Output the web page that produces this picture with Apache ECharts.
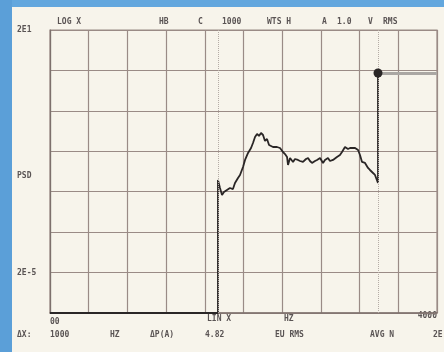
<!DOCTYPE html>
<html>
<head>
<meta charset="utf-8">
<script src="https://cdn.jsdelivr.net/npm/echarts@6/dist/echarts.min.js"></script>
<style>
  html, body { margin: 0; padding: 0; background: #f7f4eb; }
  #chart { width: 444px; height: 352px; }
</style>
</head>
<body>
<div id="chart"></div>
<script>
// Power spectral density trace, 0-4000 Hz, log amplitude from 2E-6 to 2E1
var freqHz = [0, 1736, 1736, 1757, 1778, 1798, 1829, 1860, 1891, 1912, 1943, 1964, 1995, 2016, 2047, 2078,
  2098, 2119, 2140, 2160, 2181, 2202, 2222, 2243, 2264, 2284, 2305, 2346, 2377, 2408, 2429, 2450,
  2460, 2481, 2512, 2532, 2563, 2584, 2615, 2646, 2667, 2687, 2708, 2739, 2760, 2791, 2822, 2842,
  2873, 2894, 2925, 2966, 2997, 3018, 3049, 3080, 3101, 3132, 3153, 3184, 3204, 3225, 3256, 3287,
  3307, 3328, 3359, 3390, 3390];
var psd = [2e-6, 2e-6, 3.90e-3, 2.47e-3, 1.66e-3, 1.97e-3, 2.21e-3, 2.47e-3, 2.33e-3, 3.29e-3, 4.37e-3, 5.19e-3, 8.17e-3, 1.22e-2, 1.82e-2, 2.41e-2,
  3.21e-2, 4.51e-2, 5.36e-2, 4.78e-2, 5.67e-2, 5.06e-2, 3.60e-2, 4.03e-2, 2.86e-2, 3.03e-2, 2.55e-2, 2.55e-2, 2.41e-2, 1.92e-2, 1.71e-2, 1.45e-2,
  9.16e-3, 1.36e-2, 1.09e-2, 1.29e-2, 1.22e-2, 1.15e-2, 1.09e-2, 1.29e-2, 1.36e-2, 1.15e-2, 1.03e-2, 1.15e-2, 1.22e-2, 1.36e-2, 1.03e-2, 1.22e-2,
  1.36e-2, 1.15e-2, 1.22e-2, 1.45e-2, 1.62e-2, 1.92e-2, 2.55e-2, 2.28e-2, 2.41e-2, 2.41e-2, 2.41e-2, 2.15e-2, 1.62e-2, 1.09e-2, 1.03e-2, 7.73e-3,
  6.89e-3, 6.15e-3, 5.19e-3, 3.29e-3, 1.73];

// Band cursors and the marker reading
var cursorHz = [1736, 3390];
var markerHz = 3390;
var markerPsd = 1.73;

// Amplitude range in decades
var psdMin = 2e-6;
var psdMax = 2e1;
var yTickLabels = ['', '2E-5', '', '', '', '', '', '2E1'];

// Instrument annotation strings
var headerTexts = ['LOG X', 'HB', 'C', '1000', 'WTS H', 'A', '1.0', 'V', 'RMS'];
var headerX = [57, 159, 198, 222, 267, 322, 337, 368, 383];
var xTexts = ['00', 'LIN X', 'HZ', '4000'];
var footerTexts = ['\u0394X:', '1000', 'HZ', '\u0394P(A)', '4.82', 'EU RMS', 'AVG N', '2E'];
var footerX = [17, 50, 110, 150, 205, 275, 370, 433];

function dec(v) { return Math.log10(v / psdMin); }
var decMax = dec(psdMax);

var traceData = freqHz.map(function (f, i) { return [f, dec(psd[i])]; });

var chart = echarts.init(document.getElementById('chart'), null, { renderer: 'canvas' });

var ink = '#5a5454';
var textStyleBase = { fill: ink, font: 'bold 8px "DejaVu Sans Mono", monospace' };

var graphics = [
  { type: 'rect', left: 0, top: 0, shape: { width: 444, height: 7 }, style: { fill: '#63a7de' }, z: -1 },
  { type: 'rect', left: 0, top: 0, shape: { width: 12, height: 352 }, style: { fill: '#5b9fd8' }, z: -1 }
];
headerTexts.forEach(function (t, i) {
  graphics.push({ type: 'text', left: headerX[i], top: 18, style: Object.assign({ text: t }, textStyleBase) });
});
graphics.push({ type: 'text', left: 17, top: 172, style: Object.assign({ text: 'PSD' }, textStyleBase) });
graphics.push({ type: 'text', left: 50, top: 318, style: Object.assign({ text: xTexts[0] }, textStyleBase) });
graphics.push({ type: 'text', left: 207, top: 315, style: Object.assign({ text: xTexts[1] }, textStyleBase) });
graphics.push({ type: 'text', left: 284, top: 315, style: Object.assign({ text: xTexts[2] }, textStyleBase) });
graphics.push({ type: 'text', right: 7, top: 312, style: Object.assign({ text: xTexts[3] }, textStyleBase) });
footerTexts.forEach(function (t, i) {
  graphics.push({ type: 'text', left: footerX[i], top: 331, style: Object.assign({ text: t }, textStyleBase) });
});

var gridColor = '#9a8b86';

chart.setOption({
  animation: false,
  backgroundColor: '#f7f4eb',
  graphic: graphics,
  grid: { left: 50, top: 30, width: 387, height: 283, show: true, borderColor: gridColor, borderWidth: 1.2 },
  xAxis: {
    type: 'value', min: 0, max: 4000, interval: 400,
    axisLine: { show: true, lineStyle: { color: '#7d706c', width: 1.5 } },
    axisTick: { show: false },
    axisLabel: { show: false },
    splitLine: { show: true, lineStyle: { color: gridColor, width: 1.2 } }
  },
  yAxis: {
    type: 'value', min: 0, max: decMax, interval: 1,
    axisLine: { show: true, lineStyle: { color: '#7d706c', width: 1.2 } },
    axisTick: { show: false },
    axisLabel: {
      show: true, margin: 33, align: 'left',
      color: ink, fontFamily: 'DejaVu Sans Mono', fontSize: 8, fontWeight: 'bold',
      formatter: function (v) { return yTickLabels[Math.round(v)] || ''; }
    },
    splitLine: { show: true, lineStyle: { color: gridColor, width: 1.2 } }
  },
  series: [
    {
      type: 'line', data: traceData, symbol: 'none',
      lineStyle: { color: '#2a2626', width: 1.8 },
      markLine: {
        silent: true, symbol: 'none', label: { show: false },
        lineStyle: { color: '#b5aca6', type: 'dotted', width: 1 },
        data: [
          { xAxis: cursorHz[0] },
          { xAxis: cursorHz[1] },
          [
            { coord: [markerHz, dec(markerPsd)], lineStyle: { color: '#aaa7a3', type: 'solid', width: 3 } },
            { coord: [4000, dec(markerPsd)] }
          ]
        ]
      },
      z: 3
    },
    {
      type: 'scatter', data: [[markerHz, dec(markerPsd)]],
      symbol: 'circle', symbolSize: 9,
      itemStyle: { color: '#2a2626', opacity: 1 }, z: 10
    }
  ]
});
</script>
</body>
</html>
